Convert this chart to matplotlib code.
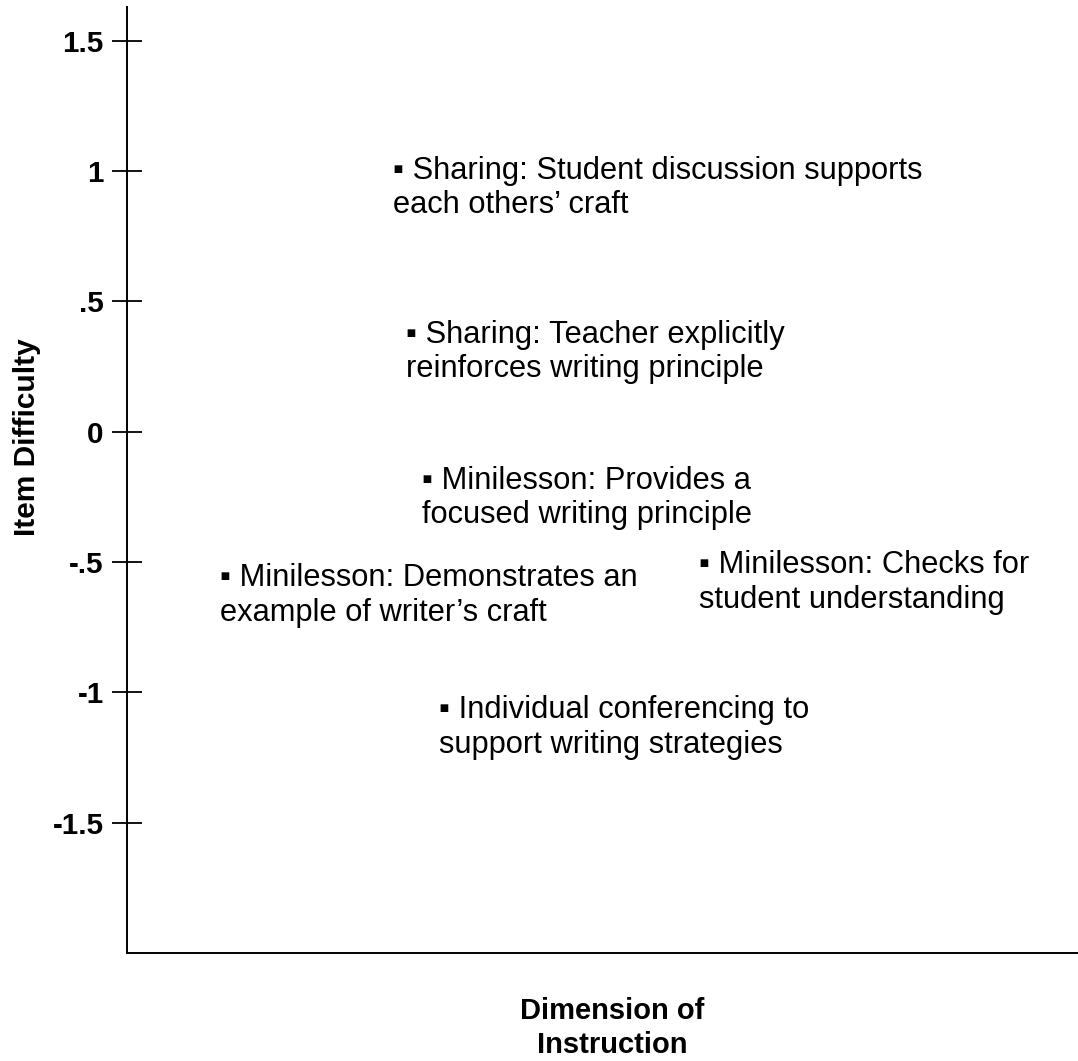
import matplotlib
matplotlib.use("Agg")
import matplotlib.pyplot as plt

plt.rcParams['font.family'] = ['Liberation Sans', 'DejaVu Sans']

# Item difficulty map
item_labels = [
    "Sharing: Student discussion supports\neach others\u2019 craft",
    "Sharing: Teacher explicitly\nreinforces writing principle",
    "Minilesson: Provides a\nfocused writing principle",
    "Minilesson: Demonstrates an\nexample of writer\u2019s craft",
    "Minilesson: Checks for\nstudent understanding",
    "Individual conferencing to\nsupport writing strategies",
]
item_x = [0.280, 0.293, 0.310, 0.098, 0.601, 0.328]
item_difficulty = [1.02, 0.39, -0.17, -0.545, -0.495, -1.05]

y_ticks = [1.5, 1, 0.5, 0, -0.5, -1, -1.5]
y_ticklabels = ["1.5", "1", ".5", "0", "-.5", "-1", "-1.5"]

fig = plt.figure(figsize=(10.78, 10.61), dpi=100)
ax = fig.add_axes([127/1078, 108/1061, 951/1078, 946/1061])

for x, y, lab in zip(item_x, item_difficulty, item_labels):
    ax.annotate("\u25aa " + lab, xy=(x, y), xytext=(0, 7.5), textcoords='offset points',
                ha='left', va='top', fontsize=22.2, linespacing=1.2)

ax.set_xlim(0, 1)
ax.set_ylim(-2.0, 1.63)
ax.set_xticks([])
ax.set_yticks(y_ticks)
ax.set_yticklabels(y_ticklabels, fontsize=21.3, fontweight='bold')
ax.tick_params(axis='y', direction='inout', length=21.6, width=1.3, pad=6)

ax.spines['top'].set_visible(False)
ax.spines['right'].set_visible(False)
ax.spines['left'].set_linewidth(1.4)
ax.spines['bottom'].set_linewidth(1.4)

ax.set_ylabel("Item Difficulty", fontsize=21.5, fontweight='bold', va='center')
ax.yaxis.set_label_coords(-0.105, 0.545)
ax.set_xlabel("Dimension of\nInstruction", fontsize=21, fontweight='bold', va='top', linespacing=1.27)
ax.xaxis.set_label_coords(0.51, -0.047)

plt.savefig('out.png', dpi=100)
